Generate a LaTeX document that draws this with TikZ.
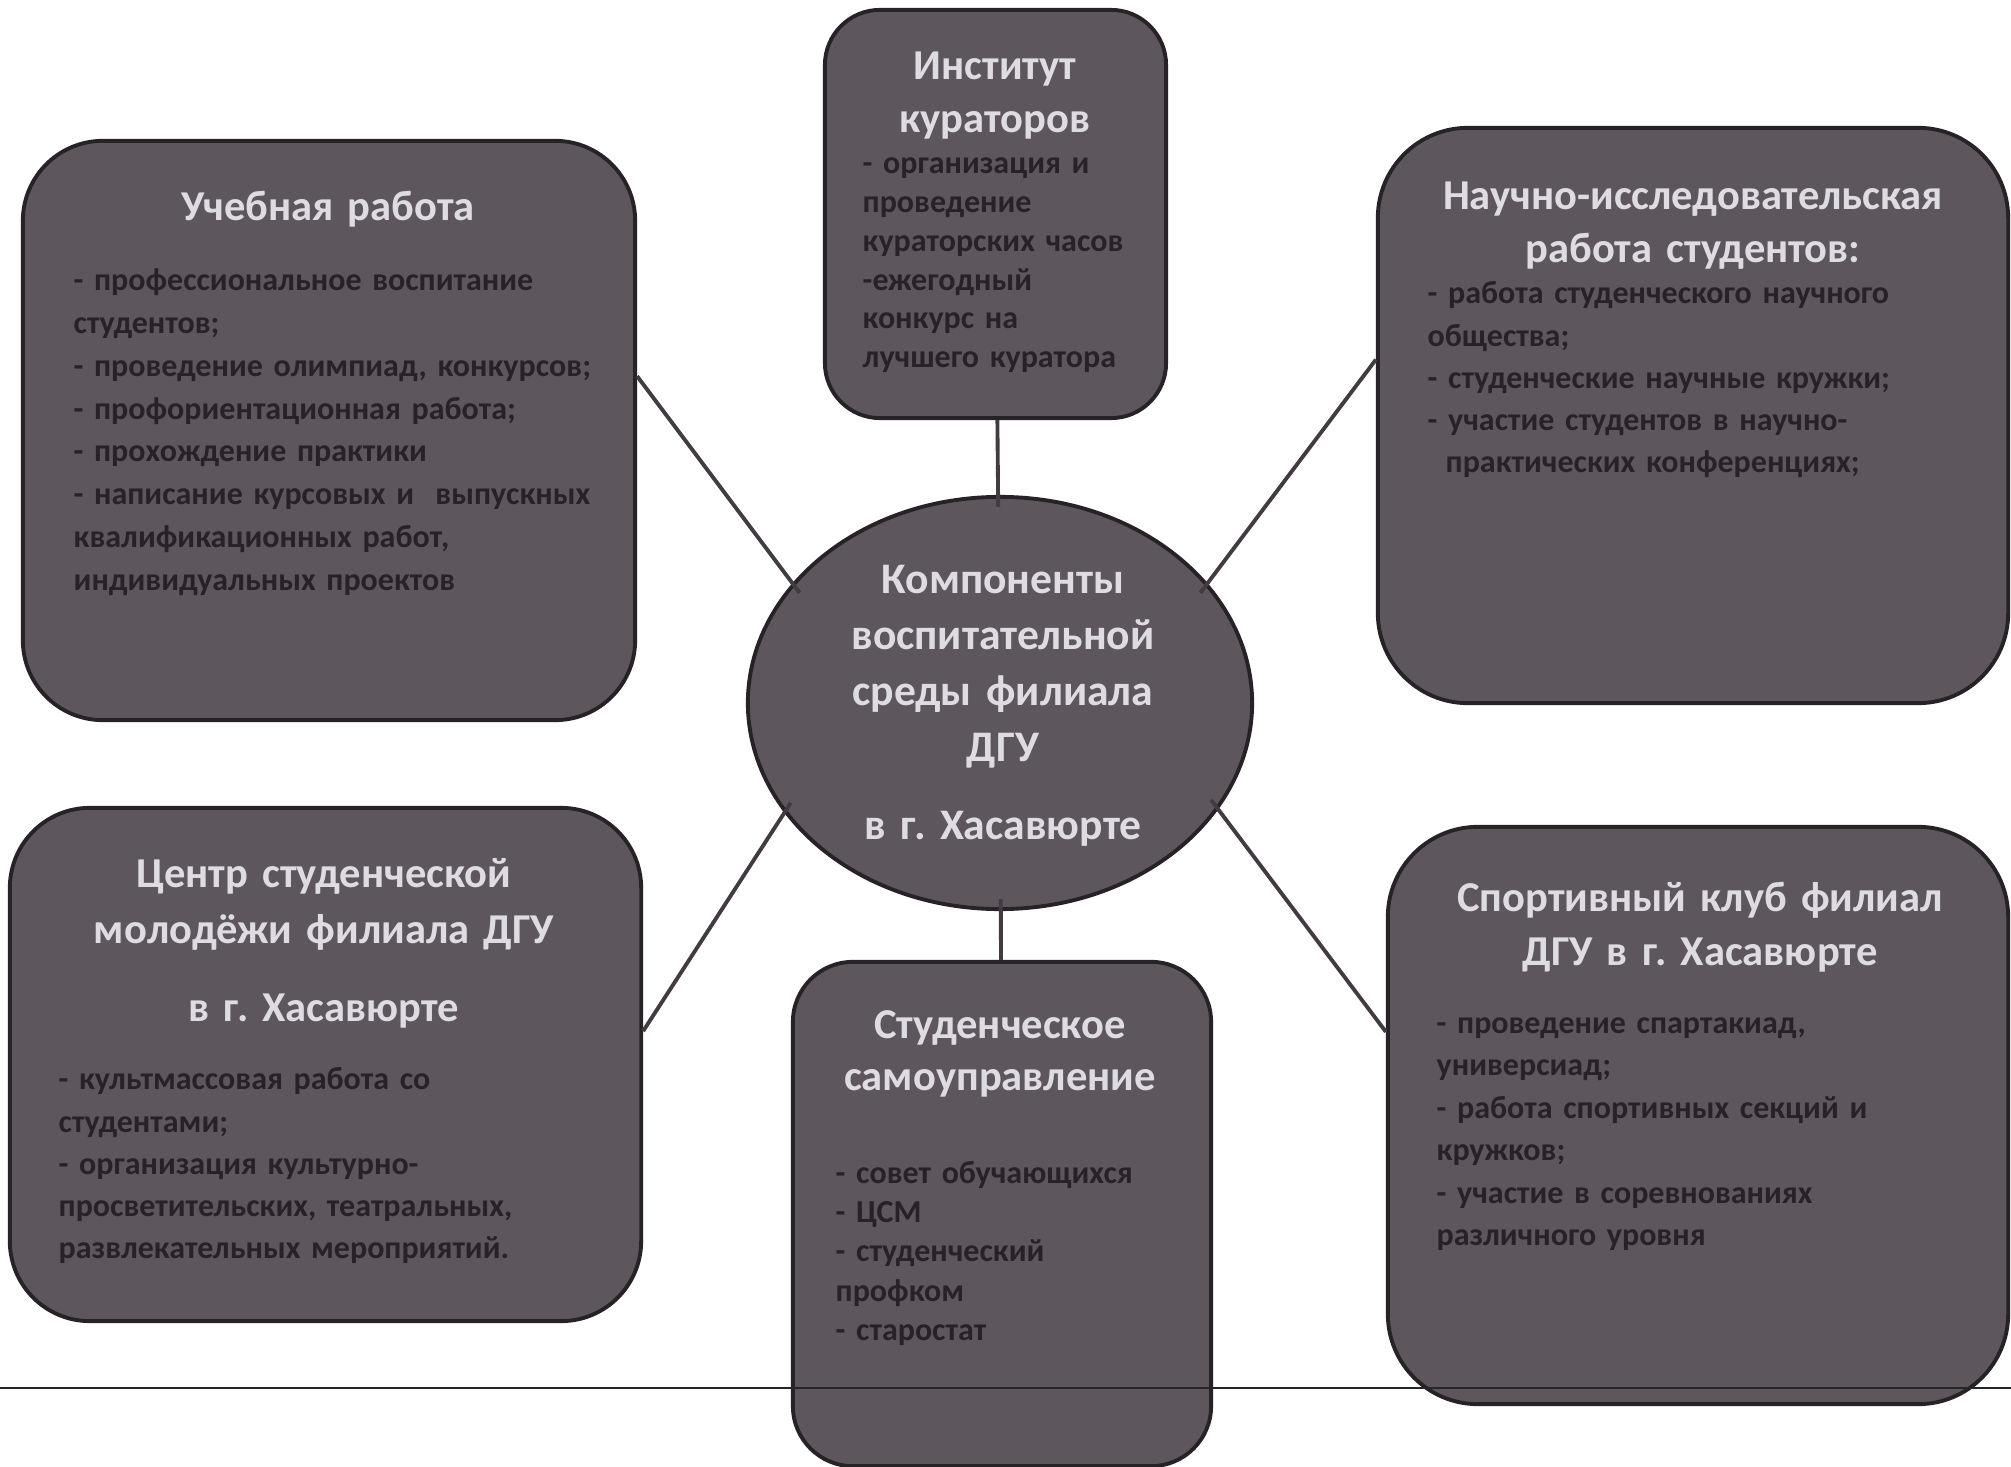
\documentclass[tikz,border=0pt]{standalone}
\usepackage{fontspec}
\setmainfont{Carlito}[WordSpace=0.85]
\frenchspacing
\usetikzlibrary{shapes.geometric}
\definecolor{panelfill}{RGB}{93,87,93}
\definecolor{panelline}{RGB}{38,34,38}
\definecolor{headtext}{RGB}{222,220,226}
\definecolor{bodytext}{RGB}{40,34,40}
\definecolor{spokeline}{RGB}{66,60,66}

\begin{document}
\begin{tikzpicture}[x=0.01cm, y=-0.01cm,
		panel/.style={draw=panelline, line width=1.1pt, fill=panelfill, inner sep=0pt, rounded corners=#1},
		panel/.default=0.8cm,
		head/.style={text=headtext, font=\fontsize{12.1}{14.8}\selectfont\bfseries, align=center, inner sep=0pt, anchor=base, text width=#1},
		head/.default=6cm,
		body/.style={text=bodytext, font=\fontsize{9.1}{12.1}\selectfont\bfseries, align=left, inner sep=0pt, anchor=base west, text width=#1},
		body/.default=6cm,
		spoke/.style={draw=spokeline, line width=1.1pt, shorten >=-0.12cm}]
		%%%%% START %%%%%
		
		\useasboundingbox (0,0) rectangle (2011,1467);
		
		\node[panel, minimum width=6.12cm, minimum height=5.79cm] (ucheb) at (329, 430.5) {};
		\node[panel=0.55cm, minimum width=3.41cm, minimum height=4.08cm] (kurator) at (995.5, 214) {};
		\node[panel=0.9cm, minimum width=6.30cm, minimum height=5.75cm] (nauch) at (1693, 415.5) {};
		\node[panel, minimum width=6.31cm, minimum height=5.13cm] (centr) at (325.5, 1064.5) {};
		\node[panel=0.6cm, minimum width=4.18cm, minimum height=5.04cm] (stud) at (1002, 1214) {};
		\node[panel=0.9cm, minimum width=6.20cm, minimum height=5.77cm] (sport) at (1698, 1115.5) {};
		\node[ellipse, draw=panelline, line width=1.1pt, fill=panelfill, minimum width=5.04cm, minimum height=4.12cm, inner sep=0pt] (hub) at (1000, 703) {};
		
		\node[head=4.4cm, font=\fontsize{12.4}{15.9}\selectfont\bfseries] (hubT) at (1003, 594)
			{Компоненты\\воспитательной\\среды филиала\\ДГУ\\[6.3pt]в г. Хасавюрте};
		
		\node[head] (uchebT) at (328, 221) {Учебная работа};
		\node[body, font=\fontsize{9.1}{12.15}\selectfont\bfseries] (uchebB) at (73, 291)
			{- профессиональное воспитание\\студентов;\\- проведение олимпиад, конкурсов;\\- профориентационная работа;\\- прохождение практики\\- написание курсовых и\ \ выпускных\\квалификационных работ,\\индивидуальных проектов};
		
		\node[head=3.3cm] (kuratorT) at (995, 80) {Институт\\кураторов};
		\node[body=3cm, font=\fontsize{9.1}{11}\selectfont\bfseries] (kuratorB) at (862, 174)
			{- организация и\\проведение\\кураторских часов\\-ежегодный\\конкурс на\\лучшего куратора};
		
		\node[head] (nauchT) at (1693, 210) {Научно-исследовательская\\работа студентов:};
		\node[body, font=\fontsize{9.1}{12}\selectfont\bfseries] (nauchB) at (1427, 304)
			{- работа студенческого научного\\общества;\\- студенческие научные кружки;\\- участие студентов в научно-\\\hspace*{0.18cm}практических конференциях;};
		
		\node[head, font=\fontsize{12.1}{15.9}\selectfont\bfseries] (centrT) at (324, 888) {Центр студенческой\\молодёжи филиала ДГУ\\[6.3pt]в г. Хасавюрте};
		\node[body, font=\fontsize{9.1}{12}\selectfont\bfseries] (centrB) at (58, 1090)
			{- культмассовая работа со\\студентами;\\- организация культурно-\\просветительских, театральных,\\развлекательных мероприятий.};
		
		\node[head=4cm] (studT) at (1000, 1038) {Студенческое\\самоуправление};
		\node[body=3.6cm, font=\fontsize{9.1}{11.2}\selectfont\bfseries] (studB) at (835, 1183)
			{- совет обучающихся\\- ЦСМ\\- студенческий\\профком\\- старостат};
		
		\node[head, font=\fontsize{12.1}{15.6}\selectfont\bfseries] (sportT) at (1700, 911) {Спортивный клуб филиал\\ДГУ в г. Хасавюрте};
		\node[body, font=\fontsize{9.1}{12.1}\selectfont\bfseries] (sportB) at (1436, 1033)
			{- проведение спартакиад,\\универсиад;\\- работа спортивных секций и\\кружков;\\- участие в соревнованиях\\различного уровня};
		
		\draw[spoke] (ucheb.10.6) -- (hub.150);
		\draw[spoke] (kurator) -- (hub);
		\draw[spoke] (nauch.170.4) -- (hub.30);
		\draw[spoke] (centr.6.2) -- (hub.207);
		\draw[spoke] (stud) -- (hub);
		\draw[spoke] (sport.165.3) -- (hub.-26);
		
		\draw[line width=0.8pt, color=black!85] (0, 1388) -- (2011, 1388);
		
		%%%%% END %%%%%
	\end{tikzpicture}
\end{document}
